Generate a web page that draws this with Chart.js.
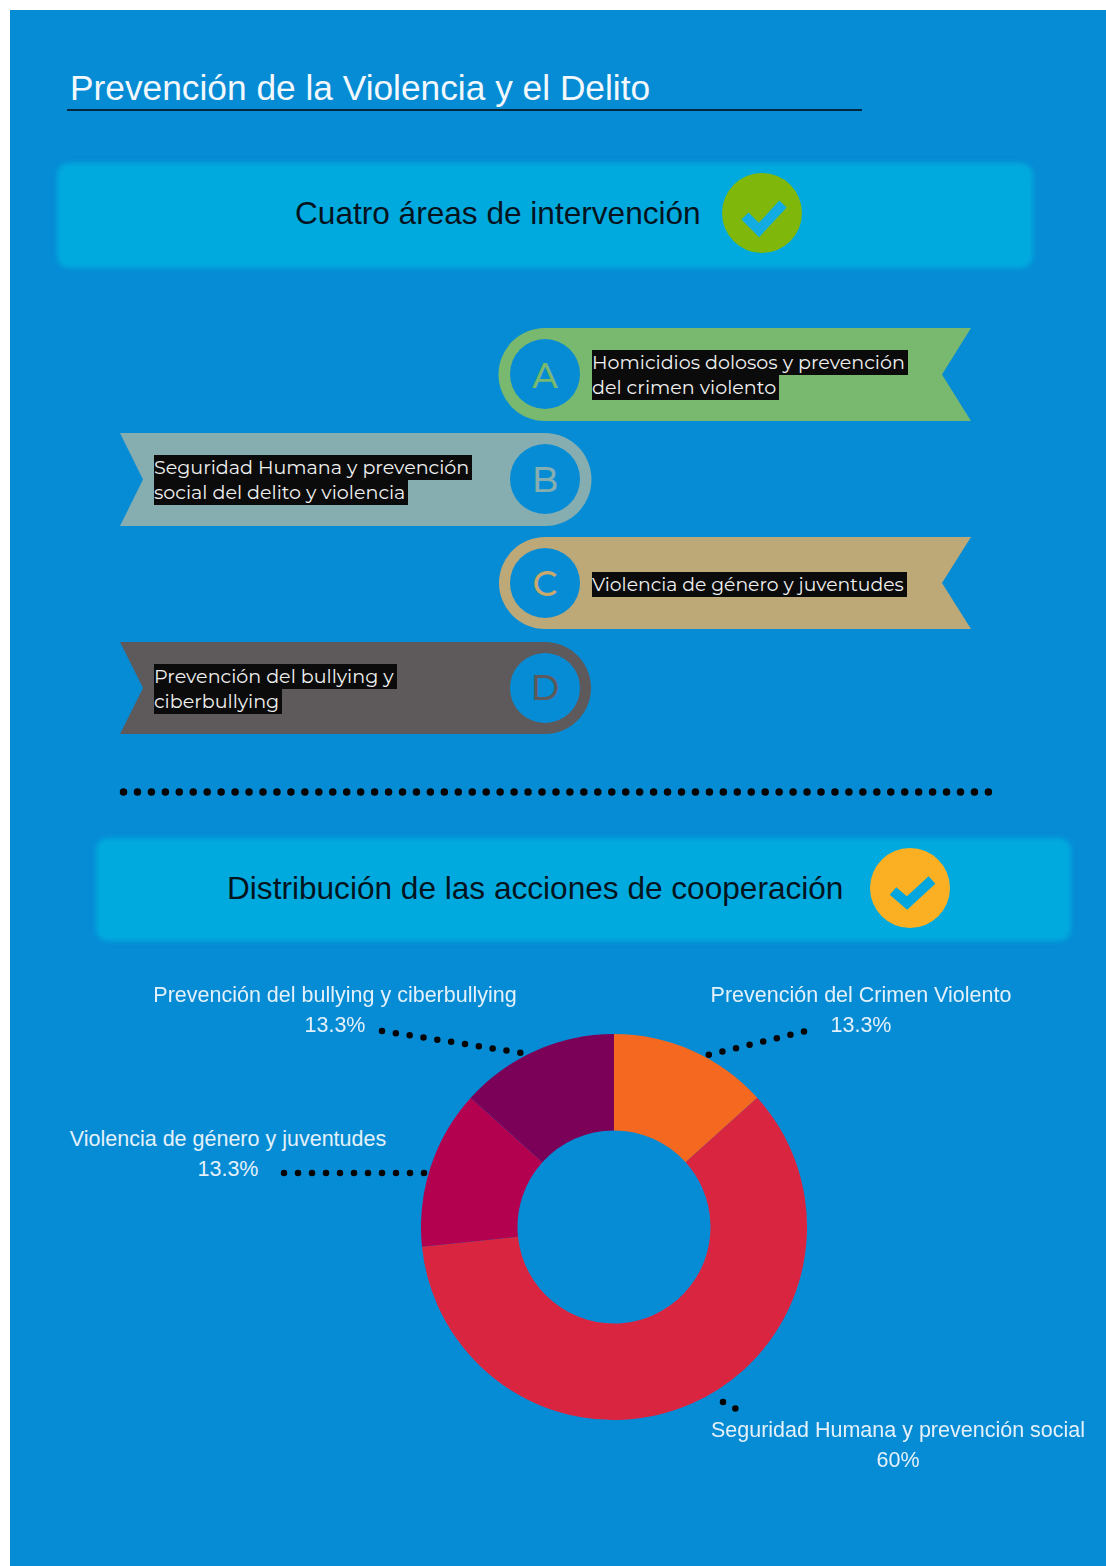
<!DOCTYPE html>
<html lang="es">
<head>
<meta charset="utf-8">
<title>Prevención de la Violencia y el Delito</title>
<script src="https://cdn.jsdelivr.net/npm/chart.js@4/dist/chart.umd.min.js"></script>
<style>
  html, body { margin: 0; padding: 0; background: #fff; }
  #page { position: relative; width: 1106px; height: 1566px; overflow: hidden; font-family: "Liberation Sans", Arial, sans-serif; }
  #sheet { position: absolute; left: 10px; top: 10px; width: 1096px; height: 1556px; background: #068cd5; }
  #art { position: absolute; left: 0; top: 0; }
  .abs { position: absolute; white-space: nowrap; }
  .banner { position: absolute; background: #01aade; border-radius: 12px; filter: blur(2.5px); }
  #title { left: 70px; top: 67px; font-size: 35.3px; line-height: 42px; color: #f2f8fc; }
  #rule { position: absolute; left: 67px; top: 109px; width: 795px; height: 2px; background: #06283f; }
  .head { font-size: 31.6px; line-height: 38px; color: #04141f; }
  .tag { position: absolute; font-family: Montserrat, Inter, "Open Sans", sans-serif; font-size: 19.1px; line-height: 25px; color: #f0f0f0; white-space: nowrap; }
  .tag span { background: #0b0b0b; padding: 1px 3px 1px 0; }
  .callout { position: absolute; transform: translateX(-50%); text-align: center; font-size: 21.5px; line-height: 30px; color: #e4f1fa; white-space: nowrap; }
  #donut { position: absolute; left: 421px; top: 1034px; }
</style>
</head>
<body>
<div id="page">
  <div id="sheet"></div>
  <div class="banner" style="left:57px;top:163px;width:976px;height:105px"></div>
  <div class="banner" style="left:96px;top:838px;width:975px;height:103px"></div>

  <svg id="art" width="1106" height="1566" xmlns="http://www.w3.org/2000/svg">
    <!-- cintas A-D -->
    <path d="M971 328H545a46.5 46.5 0 0 0 0 93H971L942 374.5Z" fill="#79b96f"/>
    <path d="M120 433H545a46.5 46.5 0 0 1 0 93H120L143 479.5Z" fill="#86aeb0"/>
    <path d="M971 537H545a46 46 0 0 0 0 92H971L942 583Z" fill="#bda878"/>
    <path d="M120 642H545a46 46 0 0 1 0 92H120L143 688Z" fill="#5e5a5c"/>
    <circle cx="545" cy="374" r="35" fill="#068cd5"/>
    <circle cx="545" cy="479" r="35" fill="#068cd5"/>
    <circle cx="545" cy="583" r="35" fill="#068cd5"/>
    <circle cx="545" cy="688" r="35" fill="#068cd5"/>
    <g font-family="Montserrat, Inter, 'Open Sans', sans-serif" font-size="35" font-weight="500" text-anchor="middle">
      <text x="545" y="388" fill="#79b96f">A</text>
      <text x="545" y="492" fill="#86aeb0">B</text>
      <text x="545" y="596" fill="#c9a86c">C</text>
      <text x="545" y="700" fill="#5e5a5c">D</text>
    </g>
    <!-- iconos -->
    <circle cx="762" cy="213" r="40" fill="#7fb80b"/>
    <path d="M745 216L759 230L783 204" fill="none" stroke="#12ace2" stroke-width="10"/>
    <circle cx="910" cy="888" r="40" fill="#fbb023"/>
    <path d="M893 891L907 903L932 880" fill="none" stroke="#02a6de" stroke-width="10"/>
    <!-- lineas punteadas -->
    <g fill="none" stroke="#050505" stroke-width="7.5" stroke-linecap="round" stroke-dasharray="0 13.95">
      <path d="M123.5 792H989"/>
    </g>
    <g fill="none" stroke="#050505" stroke-width="6.5" stroke-linecap="round" stroke-dasharray="0 14">
      <path d="M382 1031L522 1053"/>
      <path d="M284 1173H428"/>
      <path d="M804 1031.5L708 1055"/>
      <path d="M723 1402L738 1410"/>
    </g>
  </svg>

  <div id="title" class="abs">Prevención de la Violencia y el Delito</div>
  <div id="rule"></div>
  <div class="abs head" style="left:295px;top:194px">Cuatro áreas de intervención</div>
  <div class="abs head" style="left:227px;top:869px">Distribución de las acciones de cooperación</div>

  <div class="tag" style="left:592px;top:350px"><span>Homicidios dolosos y prevención</span><br><span>del crimen violento</span></div>
  <div class="tag" style="left:154px;top:455px"><span>Seguridad Humana y prevención</span><br><span>social del delito y violencia</span></div>
  <div class="tag" style="left:592px;top:572px;font-size:18.8px"><span>Violencia de género y juventudes</span></div>
  <div class="tag" style="left:154px;top:664px"><span>Prevención del bullying y</span><br><span>ciberbullying</span></div>

  <canvas id="donut" width="386" height="386"></canvas>
  <div id="callouts"></div>
</div>

<script>
// Datos de la grafica
const categories = ['Prevención del Crimen Violento', 'Seguridad Humana y prevención social', 'Violencia de género y juventudes', 'Prevención del bullying y ciberbullying'];
const shares = [13.3, 60, 13.3, 13.3];
const sliceColors = ['#f4681f', '#da2540', '#b4014f', '#7a0058'];
// centro de cada etiqueta, en el mismo orden
const calloutX = [861, 898, 228, 335];
const calloutY = [980, 1415, 1124, 980];

const box = document.getElementById('callouts');
categories.forEach(function (name, i) {
    const el = document.createElement('div');
    el.className = 'callout';
    el.style.left = calloutX[i] + 'px';
    el.style.top = calloutY[i] + 'px';
    el.innerHTML = name + '<br>' + shares[i] + '%';
    box.appendChild(el);
});

new Chart(document.getElementById('donut'), {
    type: 'doughnut',
    data: {
        labels: categories,
        datasets: [{
            data: shares,
            backgroundColor: sliceColors,
            borderWidth: 0
        }]
    },
    options: {
        responsive: false,
        animation: false,
        cutout: '50%',
        plugins: {
            legend: { display: false },
            tooltip: { enabled: false }
        }
    }
});
</script>
</body>
</html>
